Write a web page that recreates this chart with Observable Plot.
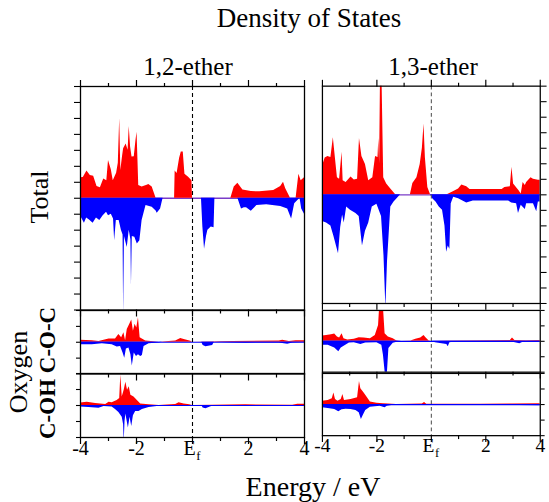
<!DOCTYPE html>
<html><head><meta charset="utf-8">
<script src="https://cdn.jsdelivr.net/npm/d3@7"></script>
<script src="https://cdn.jsdelivr.net/npm/@observablehq/plot@0.6"></script>
<style>
body{margin:0;background:#fff;}
#fig{position:relative;width:549px;height:502px;overflow:hidden;color:#000;}
.lab{position:absolute;white-space:nowrap;transform:translate(-50%,-50%);line-height:1;}
.rot{transform:translate(-50%,-50%) rotate(-90deg);}
.p{position:absolute;}
</style></head><body><div id="fig"></div>
<script>
// ---- axis / tick data ----
const xMajor = [-4, -2, 0, 2, 4];
const xMinor = [-3, -1, 1, 3];
const xNumLabels = [[-4, "-4"], [-2, "-2"], [2, "2"], [4, "4"]];
const xFermi = [0];
const yTicksTotal = [-7, -6, -5, -4, -3, -2, -1, 0, 1, 2, 3, 4, 5, 6, 7];
const yTicksOxygen = [-2, -1, 0, 1, 2];

// ---- DOS data: [energy (eV), DOS] ; up = spin up (red), down = spin down (blue) ----
const total12Up = [[-4,1.28],[-3.9,1.3],[-3.77,1.7],[-3.65,1.43],[-3.53,1.38],[-3.41,0.73],[-3.29,0.65],[-3.17,1.2],[-3.06,1.1],[-3.0,2.37],[-2.9,1.78],[-2.83,1.1],[-2.71,1.57],[-2.65,2.2],[-2.6,5.0],[-2.56,1.74],[-2.5,2.6],[-2.46,3.1],[-2.37,3.4],[-2.3,3.0],[-2.26,4.5],[-2.21,3.2],[-2.16,2.58],[-2.08,2.6],[-2.02,3.6],[-1.98,4.13],[-1.95,2.5],[-1.92,0.8],[-1.8,0.7],[-1.62,0.82],[-1.56,0.86],[-1.44,0.7],[-1.3,0],[-0.64,0],[-0.62,1.7],[-0.55,1.55],[-0.46,2.5],[-0.4,2.9],[-0.33,2.9],[-0.27,1.5],[-0.14,1.32],[-0.02,1.1],[0,0],[1.37,0],[1.49,0.7],[1.62,0.94],[1.8,0.52],[2.1,0.42],[2.4,0.4],[2.9,0.48],[3.15,0.73],[3.25,1.0],[3.33,0.6],[3.5,0],[3.7,0],[3.8,1.5],[3.88,1.1],[4,1.28]];
const total12Down = [[-4,-1.09],[-3.86,-1.57],[-3.78,-1.24],[-3.68,-1.36],[-3.55,-1.57],[-3.43,-1.24],[-3.31,-1.4],[-3.19,-1.09],[-3.07,-0.88],[-3.0,-1.09],[-2.9,-1.0],[-2.82,-1.3],[-2.78,-2.66],[-2.72,-1.4],[-2.62,-1.4],[-2.54,-2.0],[-2.48,-2.3],[-2.46,-7.3],[-2.43,-2.4],[-2.33,-3.08],[-2.26,-2.0],[-2.2,-2.6],[-2.18,-5.5],[-2.15,-2.4],[-2.06,-2.45],[-1.97,-2.87],[-1.88,-2.66],[-1.8,-1.4],[-1.66,-0.46],[-1.44,-0.57],[-1.3,-0.8],[-1.26,-0.94],[-1.14,-0.67],[-1.05,0],[0.32,0],[0.37,-1.8],[0.43,-3.2],[0.5,-2.4],[0.55,-2.0],[0.67,-1.8],[0.77,-1.85],[0.8,0],[1.62,0],[1.75,-0.67],[1.85,-0.6],[1.93,-0.6],[2.1,-0.82],[2.3,-0.46],[2.65,-0.4],[3.15,-0.52],[3.4,-0.67],[3.54,-1.3],[3.65,-0.35],[3.84,0],[3.9,-0.67],[4,-1.0]];
const total13Up = [[-4,1.84],[-3.9,2.37],[-3.8,2.47],[-3.69,2.4],[-3.6,3.67],[-3.55,2.8],[-3.45,1.1],[-3.37,1.0],[-3.28,2.75],[-3.24,0.9],[-3.13,0.8],[-2.95,1.15],[-2.83,0.95],[-2.71,1.0],[-2.64,3.63],[-2.55,2.47],[-2.42,1.95],[-2.3,0.9],[-2.15,1.1],[-2.05,2.47],[-1.96,2.4],[-1.93,3.63],[-1.9,2.0],[-1.87,7.3],[-1.81,7.3],[-1.75,1.1],[-1.64,0.7],[-1.49,0.38],[-1.31,0],[-0.77,0],[-0.68,0.73],[-0.53,1.1],[-0.41,1.95],[-0.33,3.0],[-0.27,4.57],[-0.22,2.4],[-0.13,0.48],[-0.03,0],[0.58,0],[0.77,0.17],[1.0,0.38],[1.12,0.63],[1.3,0.52],[1.42,0.34],[2.0,0.34],[2.6,0.34],[2.7,0.48],[2.9,0.52],[2.96,1.78],[3.02,0.7],[3.22,0.27],[3.3,0.06],[3.37,0.8],[3.45,0.6],[3.5,0.8],[3.66,1.1],[3.75,1.0],[3.93,0.94],[4,0.94]];
const total13Down = [[-4,-1.72],[-3.85,-1.82],[-3.69,-2.0],[-3.58,-2.66],[-3.41,-3.8],[-3.33,-2.1],[-3.26,-1.3],[-3.2,-1.82],[-3.11,-0.78],[-2.97,-1.0],[-2.77,-1.2],[-2.65,-1.4],[-2.53,-3.3],[-2.42,-2.35],[-2.3,-1.82],[-2.17,-0.78],[-2.0,-0.6],[-1.83,-1.4],[-1.74,-3.9],[-1.67,-7.3],[-1.61,-4.3],[-1.49,-0.78],[-1.37,-0.46],[-1.21,-0.15],[-1.13,0],[-0.03,0],[0.05,-0.25],[0.17,-0.46],[0.29,-0.78],[0.41,-1.0],[0.5,-2.0],[0.56,-3.7],[0.62,-3.3],[0.68,-3.5],[0.73,-0.57],[0.82,-0.15],[1.0,-0.25],[1.3,-0.52],[1.54,-0.4],[2.25,-0.4],[2.84,-0.4],[2.95,-0.52],[3.13,-0.57],[3.2,-1.2],[3.3,-0.67],[3.45,-0.94],[3.5,-0.57],[3.75,-0.57],[3.87,-1.09],[3.93,-0.46],[4,-0.46]];
const coc12Up = [[-4,0.13],[-3.58,0.1],[-3.34,0.04],[-2.98,0.2],[-2.75,0.2],[-2.63,0.49],[-2.53,0.28],[-2.45,0.6],[-2.39,0.1],[-2.33,0.8],[-2.24,1.13],[-2.17,1.4],[-2.11,0.7],[-2.05,1.13],[-1.99,0.9],[-1.93,1.55],[-1.87,0.28],[-1.67,0.08],[-1.19,0],[-0.6,0.08],[-0.42,0.23],[-0.3,0.17],[-0.06,0.06],[0,0],[1.43,0.04],[3.1,0.08],[3.22,0.13],[3.46,0.04],[3.7,0.1],[4,0.1]];
const coc12Down = [[-4,-0.15],[-3.58,-0.15],[-3.22,-0.1],[-2.87,-0.15],[-2.69,-0.3],[-2.57,-0.26],[-2.48,-0.68],[-2.42,-1.0],[-2.36,-0.43],[-2.27,-0.36],[-2.2,-0.79],[-2.15,-1.49],[-2.08,-0.68],[-2.0,-0.89],[-1.93,-0.79],[-1.85,-0.89],[-1.79,-0.83],[-1.73,-0.26],[-1.55,-0.1],[-1.19,-0.04],[-1.07,0],[0.33,0],[0.38,-0.21],[0.48,-0.28],[0.72,-0.21],[0.78,0],[1.55,-0.04],[1.9,-0.06],[3.1,-0.04],[3.4,-0.13],[3.58,-0.04],[4,-0.02]];
const coh12Up = [[-4,0.15],[-3.76,0.21],[-3.46,0.13],[-3.1,0.06],[-2.98,0.21],[-2.87,0.17],[-2.69,0.32],[-2.6,0.43],[-2.56,1.9],[-2.51,0.53],[-2.44,0.96],[-2.38,1.45],[-2.32,0.96],[-2.26,1.17],[-2.2,0.64],[-2.09,0.53],[-1.97,0.32],[-1.85,0.1],[-1.55,0.04],[-1.19,0],[-0.6,0.06],[-0.48,0.17],[-0.3,0.1],[-0.1,0.04],[0,0],[0.72,0.02],[1.9,0.04],[3.58,0.02],[3.76,0.08],[4,0.08]];
const coh12Down = [[-4,-0.1],[-3.7,-0.13],[-3.34,-0.17],[-3.16,-0.06],[-2.87,-0.1],[-2.75,-0.25],[-2.63,-0.43],[-2.51,-0.74],[-2.46,-1.2],[-2.44,-2.3],[-2.41,-1.0],[-2.38,-0.53],[-2.29,-1.4],[-2.23,-0.74],[-2.17,-1.32],[-2.11,-0.64],[-2.03,-0.38],[-1.91,-0.38],[-1.79,-0.25],[-1.55,-0.13],[-1.19,-0.04],[-1.07,0],[0.33,0],[0.38,-0.15],[0.48,-0.21],[0.66,-0.08],[0.78,0],[1.9,-0.04],[4,-0.06]];
const coc13Up = [[-4,0.34],[-3.85,0.38],[-3.67,0.43],[-3.55,0.47],[-3.45,0.28],[-3.37,0.21],[-3.28,0.49],[-3.21,0.17],[-3.07,0.09],[-2.83,0.13],[-2.65,0.23],[-2.47,0.21],[-2.24,0.17],[-2.06,0.38],[-1.94,1.02],[-1.9,2.2],[-1.76,2.2],[-1.7,0.49],[-1.58,0.28],[-1.4,0.17],[-1.28,0.04],[-1.16,0],[-0.75,0.02],[-0.57,0.13],[-0.39,0.21],[-0.27,0.38],[-0.19,0.21],[-0.09,0.04],[0,0],[0.62,0.02],[1.82,0.04],[2.9,0.06],[2.98,0.21],[3.07,0.06],[3.49,0.04],[4,0.06]];
const coc13Down = [[-4,-0.26],[-3.79,-0.26],[-3.55,-0.43],[-3.4,-0.68],[-3.31,-0.43],[-3.19,-0.3],[-3.01,-0.11],[-2.83,-0.09],[-2.59,-0.21],[-2.41,-0.11],[-2.0,-0.09],[-1.82,-0.26],[-1.76,-0.9],[-1.7,-1.96],[-1.68,-2.2],[-1.62,-2.2],[-1.56,-0.47],[-1.4,-0.13],[-1.22,-0.04],[-1.1,0],[0,0],[0.15,-0.09],[0.39,-0.15],[0.57,-0.21],[0.62,-0.36],[0.68,-0.09],[0.86,-0.04],[1.82,-0.04],[3.0,-0.06],[3.25,-0.15],[3.37,-0.06],[4,-0.04]];
const coh13Up = [[-4,0.21],[-3.79,0.26],[-3.64,0.38],[-3.58,0.74],[-3.52,0.32],[-3.43,0.21],[-3.31,0.32],[-3.25,0.64],[-3.19,0.26],[-2.95,0.32],[-2.71,0.43],[-2.64,1.49],[-2.59,1.02],[-2.47,0.74],[-2.36,0.47],[-2.24,0.17],[-2.0,0.09],[-1.76,0.06],[-1.58,0.04],[-1.28,0],[-0.33,0.04],[-0.25,0.13],[-0.17,0.02],[0.5,0.02],[1.82,0.02],[3.0,0.04],[4,0.06]];
const coh13Down = [[-4,-0.21],[-3.79,-0.26],[-3.55,-0.32],[-3.4,-0.47],[-3.28,-0.34],[-3.13,-0.3],[-2.95,-0.32],[-2.77,-0.38],[-2.65,-0.53],[-2.57,-0.96],[-2.51,-0.74],[-2.41,-0.38],[-2.24,-0.17],[-1.88,-0.11],[-1.7,-0.21],[-1.62,-0.11],[-1.4,-0.04],[-1.16,0],[0,-0.02],[0.62,-0.04],[1.82,-0.04],[3.2,-0.06],[4,-0.08]];

// ---- styling ----
const RED = "#ff0000", BLUE = "#0000ff", PURPLE = "#7a3cc8";
// pick an installed Times-like serif font (checked by glyph metrics)
function pickFont(cands) {
  const ctx = document.createElement("canvas").getContext("2d");
  const probe = "Density of States 1,2-ether Energy";
  ctx.font = "30px monospace"; const wm = ctx.measureText(probe).width;
  ctx.font = "30px sans-serif"; const ws = ctx.measureText(probe).width;
  for (const f of cands) {
    ctx.font = `30px "${f}", monospace`; const a = ctx.measureText(probe).width;
    ctx.font = `30px "${f}", sans-serif`; const b = ctx.measureText(probe).width;
    if (a !== wm || b !== ws) return `"${f}", serif`;
  }
  return "serif";
}
const FONT = pickFont(["Liberation Serif", "Times New Roman", "Tinos", "Nimbus Roman", "DejaVu Serif"]);
const fig = document.getElementById("fig");
fig.style.fontFamily = FONT;

function panel({up, down, ymax, yticks, side, top, bottom, x0, y0, h, dash, zeroColor, zeroOnTop, ytick}) {
  const W = 224;
  const mL = side === "left" ? 10 : 2, mR = side === "right" ? 10 : 2;
  const mT = top ? 12 : 2, mB = bottom ? 45 : 10;
  const marks = [];
  if (!zeroOnTop) marks.push(Plot.ruleY([0], {stroke: zeroColor, strokeWidth: 1.4}));
  marks.push(Plot.areaY(up, {x: d => d[0], y: d => d[1], fill: RED, clip: true}));
  marks.push(Plot.areaY(down, {x: d => d[0], y: d => d[1], fill: BLUE, clip: true}));
  if (zeroOnTop) marks.push(Plot.ruleY([0], {stroke: zeroColor, strokeWidth: 1.2}));
  marks.push(Plot.ruleX([0], {stroke: dash, strokeDasharray: "4,3", strokeWidth: 1.1}));
  marks.push(Plot.frame({stroke: "#000", strokeWidth: 1.3}));
  marks.push(Plot.axisX(xMajor, {anchor: "bottom", tickSize: 7, tickFormat: () => "", label: null, strokeWidth: 1.2}));
  marks.push(Plot.axisX(xMinor, {anchor: "bottom", tickSize: 4, tickFormat: () => "", label: null, strokeWidth: 1.2}));
  if (top) {
    marks.push(Plot.axisX(xMajor, {anchor: "top", tickSize: 7, tickFormat: () => "", label: null, strokeWidth: 1.2}));
    marks.push(Plot.axisX(xMinor, {anchor: "top", tickSize: 4, tickFormat: () => "", label: null, strokeWidth: 1.2}));
  }
  marks.push(Plot.axisY(yticks, {anchor: side, tickSize: ytick, tickFormat: () => "", label: null, strokeWidth: 1.1}));
  if (bottom) {
    marks.push(Plot.text(xNumLabels, {x: d => d[0], text: d => d[1], frameAnchor: "bottom", dy: 17, fontSize: 20, fontFamily: FONT, fill: "#000"}));
    marks.push(Plot.text(xFermi, {x: d => d, text: () => "E", frameAnchor: "bottom", dy: 17, dx: -3, fontSize: 20, fontFamily: FONT, fill: "#000"}));
    marks.push(Plot.text(xFermi, {x: d => d, text: () => "f", frameAnchor: "bottom", dy: 22, dx: 6, fontSize: 13, fontFamily: FONT, fill: "#000"}));
  }
  const chart = Plot.plot({
    width: W + mL + mR, height: h + mT + mB,
    marginLeft: mL, marginRight: mR, marginTop: mT, marginBottom: mB,
    x: {domain: [-4, 4]},
    y: {domain: [-ymax, ymax]},
    style: {background: "transparent", overflow: "visible", fontFamily: FONT},
    marks
  });
  const wrap = document.createElement("div");
  wrap.className = "p";
  wrap.style.left = (x0 - mL) + "px";
  wrap.style.top = (y0 - mT) + "px";
  wrap.appendChild(chart);
  fig.appendChild(wrap);
}

const cols = [
  {x0: 80, side: "left", dash: "#000", sets: [total12Up, total12Down, coc12Up, coc12Down, coh12Up, coh12Down]},
  {x0: 321.5, side: "right", dash: "#555", sets: [total13Up, total13Down, coc13Up, coc13Down, coh13Up, coh13Down]}
];
for (const c of cols) {
  panel({up: c.sets[0], down: c.sets[1], ymax: 7, yticks: yTicksTotal, side: c.side, top: true, bottom: false, x0: c.x0, y0: 86, h: 223.5, dash: c.dash, zeroColor: PURPLE, zeroOnTop: false, ytick: 6});
  panel({up: c.sets[2], down: c.sets[3], ymax: 2, yticks: yTicksOxygen, side: c.side, top: false, bottom: false, x0: c.x0, y0: 309.5, h: 63.5, dash: c.dash, zeroColor: BLUE, zeroOnTop: true, ytick: 4});
  panel({up: c.sets[4], down: c.sets[5], ymax: 2, yticks: yTicksOxygen, side: c.side, top: false, bottom: true, x0: c.x0, y0: 373, h: 64, dash: c.dash, zeroColor: BLUE, zeroOnTop: true, ytick: 4});
}

function label(text, x, y, size, opts = {}) {
  const d = document.createElement("div");
  d.className = "lab" + (opts.rot ? " rot" : "");
  d.textContent = text;
  d.style.left = x + "px";
  d.style.top = y + "px";
  d.style.fontSize = size + "px";
  d.style.fontFamily = FONT;
  if (opts.bold) d.style.fontWeight = "bold";
  fig.appendChild(d);
}
label("Density of States", 309, 18, 27);
label("1,2-ether", 188, 66, 25);
label("1,3-ether", 433, 66, 25);
label("Energy / eV", 313, 487, 28);
label("Total", 40, 197, 26, {rot: true});
label("Oxygen", 19, 372, 26, {rot: true});
label("C-O-C", 47, 340, 23, {rot: true, bold: true});
label("C-OH", 47, 409, 23, {rot: true, bold: true});
</script>
</body></html>
